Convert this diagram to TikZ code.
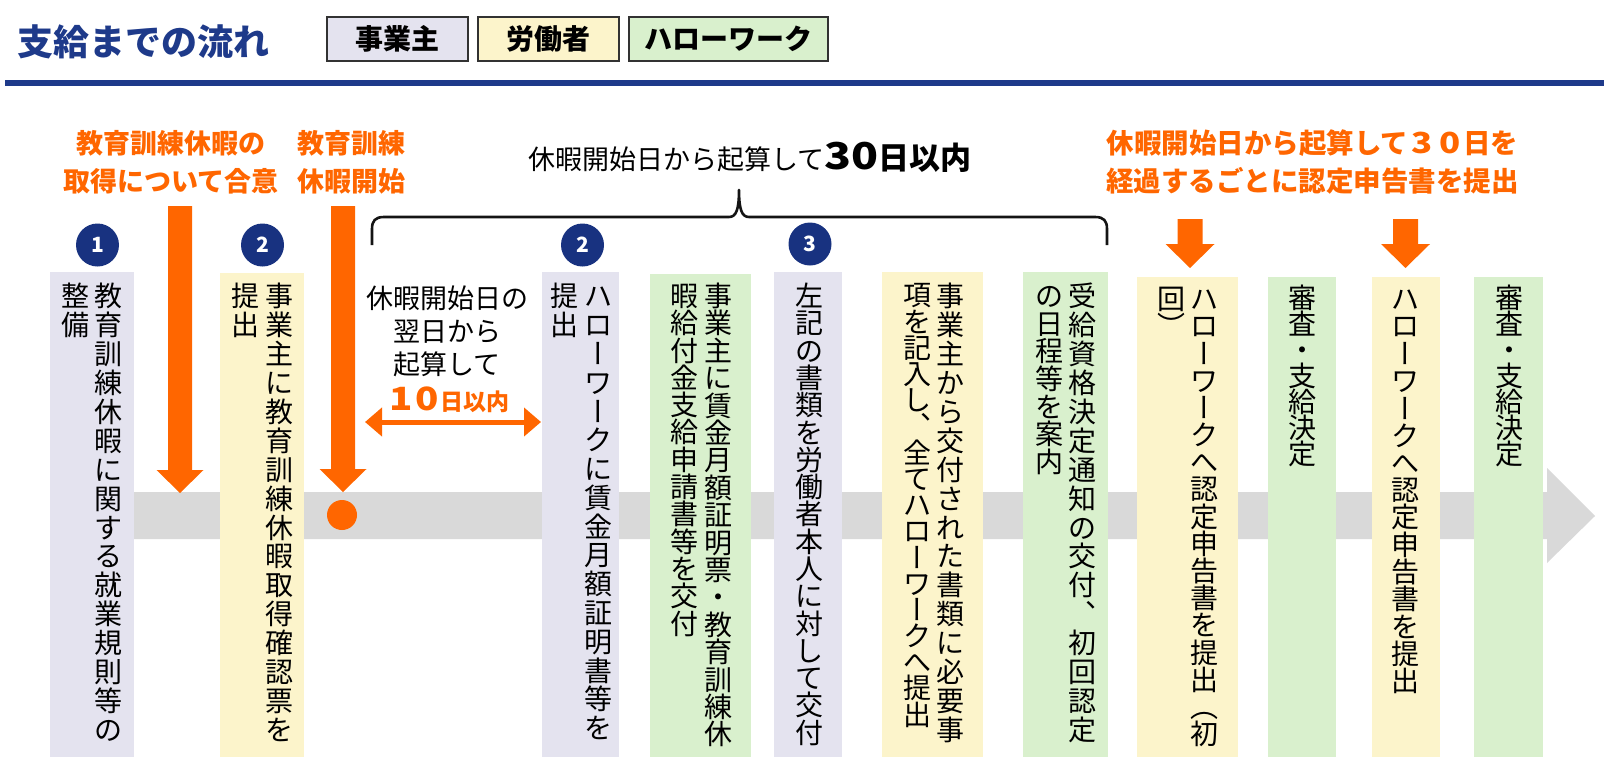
\documentclass[tikz,border=0pt]{standalone}
\usepackage{fontspec}
\usepackage{graphicx}
\setmainfont{Noto Sans CJK JP}
\usetikzlibrary{arrows.meta}

\definecolor{orangec}{RGB}{255,102,0}
\definecolor{titleblue}{RGB}{30,58,138}
\definecolor{navy}{RGB}{24,50,128}
\definecolor{cpurple}{RGB}{228,227,239}
\definecolor{cyellow}{RGB}{252,244,203}
\definecolor{cgreen}{RGB}{217,240,205}
\definecolor{bandgray}{RGB}{217,217,217}
\definecolor{legdraw}{RGB}{50,50,50}
\definecolor{bracec}{RGB}{20,20,20}

\newcommand\fsz[2]{\fontsize{#1}{#2}\selectfont}
\newdimen\vtpitch
\newcommand\vtrot[1]{\rotatebox[origin=c]{-90}{\hbox to 1em{\vrule height .88em depth .12em width 0pt\hss#1\hss}}}
\newcommand\vtvert[1]{\hbox to 1em{\addfontfeatures{RawFeature=+vert}#1}}
\newcommand\vtlp{\vtvert{（}}
\newcommand\vtrp{\vtvert{）}}
\newcommand\vtcell[2]{\hbox to 1em{\vrule height #1\vtpitch depth 0pt width 0pt\hss\raisebox{\dimexpr #1\vtpitch/2-.38em\relax}{\smash{#2}}\hss}}
\newcommand\dd[3]{\makebox[#1]{\scalebox{#2}[1]{#3}}}

\ExplSyntaxOn
\NewDocumentCommand \vtext { m m }
  {
    \vbox
      {
        \offinterlineskip
        \setlength \vtpitch {#1}
        \tl_map_inline:nn {#2} { \vt_char:n {##1} }
      }
  }
\cs_new_protected:Npn \vt_char:n #1
  {
    \str_case:nnF {#1}
      {
        {ー} { \vtcell {1} { \vtrot {ー} } }
        {、} { \vtcell {1} { \vtvert {、} } }
      }
      { \vtcell {1} {#1} }
  }
\ExplSyntaxOff

\newcommand\orarrow[6]{\fill[orangec] ({#1-#5/2},#2) -- ({#1+#5/2},#2) -- ({#1+#5/2},#3) -- ({#1+#6/2},#3) -- (#1,#4) -- ({#1-#6/2},#3) -- ({#1-#5/2},#3) -- cycle;}

\tikzset{
  lab/.style={inner sep=0, align=center, text=orangec, font=\bfseries\fsz{27}{38}},
  legendbox/.style={draw=legdraw, line width=1.5pt, minimum height=44pt, inner sep=0, font=\bfseries\fsz{28}{28}},
  badge/.style={circle, fill=navy, text=white, minimum size=43pt, inner sep=0, font=\bfseries\fsz{21}{21}},
  vcol/.style={inner sep=0, anchor=north, font=\fsz{28}{28}},
}

\begin{document}
\begin{tikzpicture}[x=1pt,y=-1pt]
\useasboundingbox (0,0) rectangle (1604,766);

% header
\node[anchor=west, inner sep=0, text=titleblue, font=\bfseries\fsz{36}{40}] (title) at (17.5,41.5) {支給までの流れ};
\node[legendbox, fill=cpurple, minimum width=141pt] (lg1) at (397.5,39) {事業主};
\node[legendbox, fill=cyellow, minimum width=141pt] (lg2) at (548.5,39) {労働者};
\node[legendbox, fill=cgreen, minimum width=199pt] (lg3) at (728.5,39) {ハローワーク};
\coordinate (rl) at (5,83);
\coordinate (rr) at (1604,83);
\draw[titleblue, line width=5.5pt] (rl) -- (rr);

% timeline band
\fill[bandgray] (100,492) -- (1547,492) -- (1547,468) -- (1595,516) -- (1547,563) -- (1547,539) -- (100,539) -- cycle;

% column backgrounds
\fill[cpurple] (50,272) rectangle (134,757);
\fill[cyellow] (220,273) rectangle (304,757);
\fill[cpurple] (542,272) rectangle (619,757);
\fill[cgreen] (650,274) rectangle (751,757);
\fill[cpurple] (774,272) rectangle (842,757);
\fill[cyellow] (882,272) rectangle (983,757);
\fill[cgreen] (1023,272) rectangle (1108,757);
\fill[cyellow] (1137,277) rectangle (1238,757);
\fill[cgreen] (1268,277) rectangle (1336,757);
\fill[cyellow] (1372,277) rectangle (1440,757);
\fill[cgreen] (1474,277) rectangle (1543,757);

% vertical texts
\node[vcol] (t1r) at (108.5,281.5) {\vtext{28.9pt}{教育訓練休暇に関する就業規則等の}};
\node[vcol] (t1l) at (75.5,281.5) {\vtext{28.9pt}{整備}};
\node[vcol] (t2r) at (279.5,281.5) {\vtext{28.9pt}{事業主に教育訓練休暇取得確認票を}};
\node[vcol] (t2l) at (245.5,281.5) {\vtext{28.9pt}{提出}};
\node[vcol] (t3r) at (598,281.5) {\vtext{28.8pt}{ハローワークに賃金月額証明書等を}};
\node[vcol] (t3l) at (564,281.5) {\vtext{28.8pt}{提出}};
\node[vcol] (t4r) at (718,282) {\vtext{27.4pt}{事業主に賃金月額証明票・教育訓練休}};
\node[vcol] (t4l) at (684,282) {\vtext{27.3pt}{暇給付金支給申請書等を交付}};
\node[vcol] (t5) at (809,282) {\vtext{27.3pt}{左記の書類を労働者本人に対して交付}};
\node[vcol] (t6r) at (950,281.5) {\vtext{28.9pt}{事業主から交付された書類に必要事}};
\node[vcol] (t6l) at (917,282) {\vtext{26.2pt}{項を記入し、全てハローワークへ提出}};
\node[vcol] (t7r) at (1082,281.5) {\vtext{28.9pt}{受給資格決定通知の交付、初回認定}};
\node[vcol] (t7l) at (1049,282) {\vtext{27.6pt}{の日程等を案内}};
\node[vcol] (t8r) at (1204,285) {\vtext{27.2pt}{ハローワークへ認定申告書を提出\vtlp 初}};
\node[vcol] (t8l) at (1171,285) {\vtext{27.2pt}{回\vtrp}};
\node[vcol] (t9) at (1302,285) {\vtext{26pt}{審査・支給決定}};
\node[vcol] (t10) at (1405.5,285) {\vtext{27.3pt}{ハローワークへ認定申告書を提出}};
\node[vcol] (t11) at (1509,285) {\vtext{26pt}{審査・支給決定}};

% badges
\node[badge] (b1) at (97.5,245) {1};
\node[badge] (b2) at (262.5,245) {2};
\node[badge] (b2b) at (582.5,245) {2};
\node[badge] (b3) at (810,244) {3};

% orange labels and arrows
\node[lab] (o1) at (171,162) {教育訓練休暇の\\取得について合意};
\node[lab] (o2) at (351,162) {教育訓練\\休暇開始};
\node[lab, font=\bfseries\fsz{27.5}{38}] (o3) at (1312.5,162) {休暇開始日から起算して{\fsz{29}{29}\dd{27.5pt}{1.2}{3}\dd{27.5pt}{1.2}{0}}日を\\経過するごとに認定申告書を提出};
\orarrow{180}{206}{470}{493}{24}{47}
\orarrow{343}{206}{469}{492}{24}{47}
\orarrow{1190}{219}{244}{268}{25}{49}
\orarrow{1405.5}{219}{244}{268}{25}{49}
\node[circle, fill=orangec, minimum size=30pt, inner sep=0] (dot) at (342,515) {};

% brace and its label
\draw[bracec, line width=2.6pt, line join=round] (372,245) -- (372,229) .. controls (372,221) and (375,217) .. (384,217) -- (729,217) .. controls (736,217) and (739,210) .. (739,190) .. controls (739,210) and (742,217) .. (749,217) -- (1095,217) .. controls (1104,217) and (1107,221) .. (1107,229) -- (1107,245);
\node[anchor=base west, inner sep=0, font=\fsz{27}{27}] (blab) at (528,169) {休暇開始日から起算して{\bfseries\fsz{37}{37}\dd{27pt}{1.2}{3}\dd{27pt}{1.2}{0}}{\bfseries\fsz{31}{31}日以内}};

% 10-day block
\node[inner sep=0, align=center, font=\fsz{27}{33}] (mid) at (447,331) {休暇開始日の\\翌日から\\起算して};
\node[anchor=base, inner sep=0, text=orangec, font=\bfseries] (ten) at (448.5,410) {{\fsz{32}{32}\dd{26pt}{1.2}{1}\dd{26pt}{1.2}{0}}{\fsz{23}{23}日以内}};
\coordinate (dl) at (365,422);
\coordinate (dr) at (541,422);
\draw[orangec, line width=5pt, {Triangle[length=17pt,width=28pt]}-{Triangle[length=17pt,width=28pt]}] (dl) -- (dr);
\end{tikzpicture}
\end{document}
